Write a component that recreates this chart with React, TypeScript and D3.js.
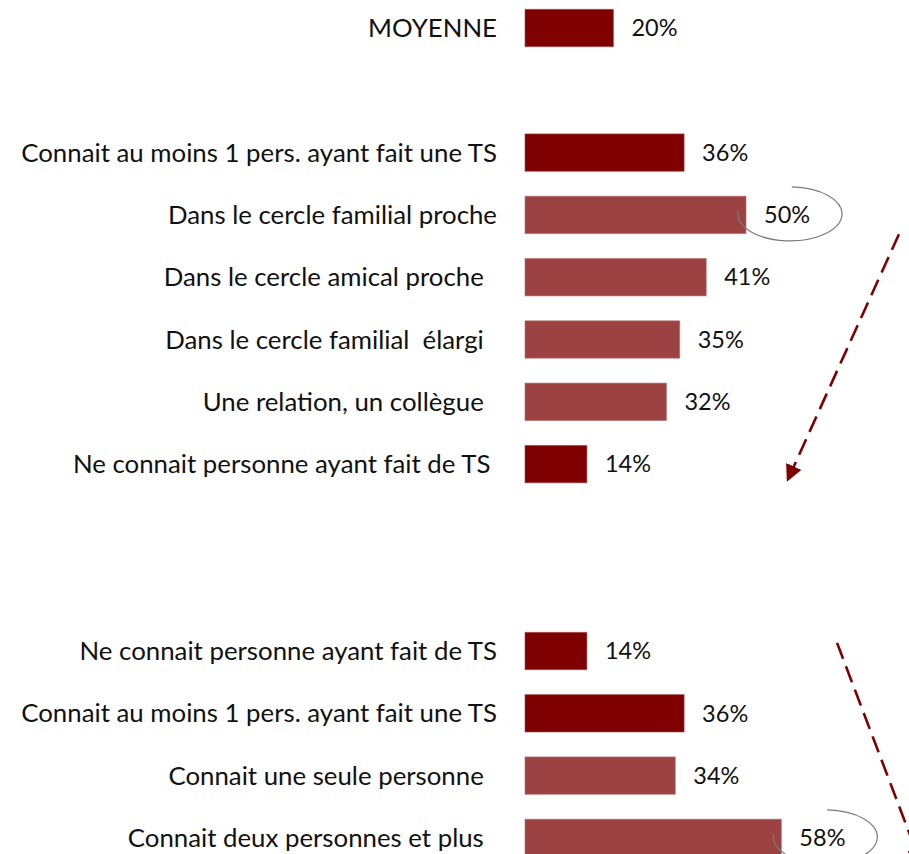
import React from "react";
import * as d3 from "d3";

const W = 909;
const H = 854;

// Rows (index in the layout grid), labels, values and tone
const rowIndex = [0, 2, 3, 4, 5, 6, 7, 10, 11, 12, 13];
const labels = [
  "MOYENNE",
  "Connait au moins 1 pers. ayant fait une TS",
  "Dans le cercle familial proche",
  "Dans le cercle amical proche  ",
  "Dans le cercle familial  élargi  ",
  "Une relation, un collègue  ",
  "Ne connait personne ayant fait de TS ",
  "Ne connait personne ayant fait de TS",
  "Connait au moins 1 pers. ayant fait une TS",
  "Connait une seule personne  ",
  "Connait deux personnes et plus  ",
];
const values = [20, 36, 50, 41, 35, 32, 14, 14, 36, 34, 58];
const tones = ["dark", "dark", "light", "light", "light", "light", "dark", "dark", "dark", "light", "light"];
const circled = [2, 10];

// Annotation arrows in data units: [value, row]
const arrowStarts = [[84.6, 3.31], [70.6, 9.87]];
const arrowEnds = [[59.4, 7.26], [89.5, 13.4]];

const DARK = "#7f0000";
const LIGHT = "#9d4243";

export default function App() {
  const x = d3.scaleLinear().domain([0, 100]).range([525, 967]);
  const rows = d3.range(14);
  const y = d3
    .scaleBand<number>()
    .domain(rows)
    .range([28 - 62.3 / 2, 28 - 62.3 / 2 + 62.3 * 14])
    .paddingInner(0.4)
    .paddingOuter(0.2);
  const step = y.step();
  const yc = (r: number) => (y(Math.floor(r)) ?? 0) + y.bandwidth() / 2 + (r - Math.floor(r)) * step;

  const font = "Lato, 'Open Sans', sans-serif";

  const ellipsePath = (cx: number, cy: number, rx: number, ry: number) => {
    const a0 = (-88 * Math.PI) / 180;
    const a1 = (186 * Math.PI) / 180;
    const p0 = [cx + rx * Math.cos(a0), cy + ry * Math.sin(a0)];
    const p1 = [cx + rx * Math.cos(a1), cy + ry * Math.sin(a1)];
    return `M${p0[0]},${p0[1]} A${rx},${ry} 0 1 1 ${p1[0]},${p1[1]}`;
  };

  return (
    <div style={{ position: "absolute", left: 0, top: 0 }}>
      <svg width={W} height={H} style={{ display: "block", background: "#fff" }}>
        <defs>
          <marker id="arr" viewBox="0 0 10 10" refX="9" refY="5" markerWidth="6.5" markerHeight="6.5" orient="auto" markerUnits="strokeWidth">
            <path d="M0,0 L10,5 L0,10 z" fill={DARK} />
          </marker>
          <clipPath id="clip">
            <rect x={0} y={0} width={W} height={H} />
          </clipPath>
        </defs>
        <g clipPath="url(#clip)">
          {values.map((v, i) => {
            const r = rowIndex[i];
            const top = y(r) ?? 0;
            const cy = top + y.bandwidth() / 2;
            return (
              <g key={i}>
                <rect
                  x={x(0)}
                  y={top}
                  width={x(v) - x(0)}
                  height={y.bandwidth()}
                  fill={tones[i] === "dark" ? DARK : LIGHT}
                  stroke={tones[i] === "dark" ? "#a04848" : "#b86a6a"}
                  strokeOpacity={0.6}
                  strokeWidth={1}
                />
                <text
                  x={497}
                  y={cy}
                  dy="0.35em"
                  textAnchor="end"
                  fontFamily={font}
                  fontSize={25.8}
                  fill="#111"
                  style={{ whiteSpace: "pre" }}
                >
                  {labels[i]}
                </text>
                <text x={x(v) + 18} y={cy} dy="0.35em" fontFamily={font} fontSize={23.5} fill="#111">
                  {v}%
                </text>
              </g>
            );
          })}
          {circled.map((i) => {
            const r = rowIndex[i];
            const cy = (y(r) ?? 0) + y.bandwidth() / 2;
            return (
              <path
                key={"c" + i}
                d={ellipsePath(x(values[i]) + 44, cy - 1, 52, 27)}
                fill="none"
                stroke="#7a7a7a"
                strokeWidth={1.2}
              />
            );
          })}
          {arrowStarts.map((s, i) => (
            <line
              key={"a" + i}
              x1={x(s[0])}
              y1={yc(s[1])}
              x2={x(arrowEnds[i][0])}
              y2={yc(arrowEnds[i][1])}
              stroke={DARK}
              strokeWidth={2.6}
              strokeDasharray="17,8"
              markerEnd="url(#arr)"
            />
          ))}
        </g>
      </svg>
    </div>
  );
}
